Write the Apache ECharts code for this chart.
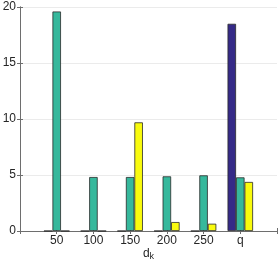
<!DOCTYPE html>
<html><head><meta charset="utf-8">
<script src="https://cdn.jsdelivr.net/npm/echarts@6/dist/echarts.min.js"></script>
<style>html,body{margin:0;padding:0;background:#fff}#c{width:280px;height:266px}</style>
</head><body><div id="c"></div>
<script>
const categories = ['50','100','150','200','250','q'];
const blueVals = [0, 0, 0, 0, 0, 18.5];
const tealVals = [19.6, 4.82, 4.82, 4.88, 4.97, 4.79];
const yellowVals = [0, 0, 9.7, 0.8, 0.65, 4.38];
const yTicks = [0, 5, 10, 15, 20];

const toPts = arr => arr.map((v, i) => [i + 1, v]);
const axisCol = '#6e6e6e';
const txtCol = '#262626';
const font = 'Liberation Sans, Arial, sans-serif';

const chart = echarts.init(document.getElementById('c'), null, {renderer: 'canvas'});
const barStyle = c => ({color: c, borderColor: '#2a2a2a', borderWidth: 0.8});
chart.setOption({
  animation: false,
  grid: {left: 20, right: 3, top: 7, bottom: 35, containLabel: false, outerBoundsMode: 'none'},
  xAxis: [{
    type: 'value', min: 0, max: 7, interval: 1,
    axisLine: {lineStyle: {color: axisCol, width: 1}},
    axisTick: {inside: true, length: 3, lineStyle: {color: axisCol}},
    splitLine: {show: false},
    axisLabel: {
      color: txtCol, fontSize: 12, fontFamily: font, margin: 4,
      formatter: v => (v >= 1 && v <= categories.length) ? categories[v - 1] : ''
    },
    name: '{d|d}{k|k}', nameLocation: 'middle', nameGap: 16, nameMoveOverlap: false,
    nameTextStyle: {rich: {
      d: {fontSize: 12, color: txtCol, fontFamily: font, lineHeight: 14},
      k: {fontSize: 9, color: txtCol, fontFamily: font, lineHeight: 14, padding: [6, 0, 0, 0]}
    }}
  }, {
    type: 'value', min: 0, max: 7, interval: 1, position: 'top',
    axisLine: {show: true, lineStyle: {color: axisCol, width: 1}},
    axisTick: {inside: true, length: 3, lineStyle: {color: axisCol}},
    axisLabel: {show: false}, splitLine: {show: false}
  }],
  yAxis: [{
    type: 'value', min: yTicks[0], max: yTicks[yTicks.length - 1], interval: 5,
    axisLine: {show: true, lineStyle: {color: axisCol, width: 1}},
    axisTick: {show: true, inside: true, length: 3, lineStyle: {color: axisCol}},
    splitLine: {show: true, lineStyle: {color: '#ebebeb', width: 1}},
    axisLabel: {color: txtCol, fontSize: 12, fontFamily: font, margin: 4}
  }, {
    type: 'value', min: yTicks[0], max: yTicks[yTicks.length - 1], interval: 5, position: 'right',
    axisLine: {show: true, lineStyle: {color: axisCol, width: 1}},
    axisTick: {show: true, inside: true, length: 3, lineStyle: {color: axisCol}},
    splitLine: {show: false}, axisLabel: {show: false}
  }],
  series: [
    {type: 'bar', data: toPts(blueVals), barWidth: 8.5, barGap: '0%', itemStyle: barStyle('#352a87')},
    {type: 'bar', data: toPts(tealVals), barWidth: 8.5, barGap: '0%', itemStyle: barStyle('#36b89c')},
    {type: 'bar', data: toPts(yellowVals), barWidth: 8.5, barGap: '0%', itemStyle: barStyle('#f9fb0e')}
  ]
});
</script></body></html>
